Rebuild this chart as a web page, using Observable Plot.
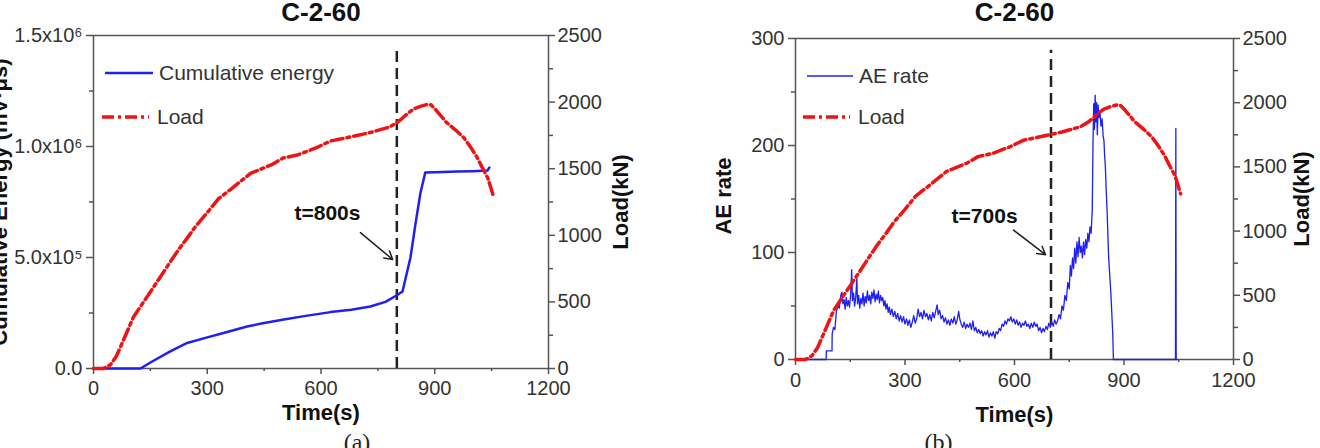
<!DOCTYPE html>
<html><head><meta charset="utf-8">
<script src="https://cdn.jsdelivr.net/npm/d3@7"></script>
<script src="https://cdn.jsdelivr.net/npm/@observablehq/plot@0.6"></script>
<style>
body{margin:0;background:#fff;}
#wrap{position:relative;width:1320px;height:448px;overflow:hidden;background:#fff;font-family:"Liberation Sans",Arial,sans-serif;}
.panel{position:absolute;top:0;}
.leg{position:absolute;display:flex;align-items:center;height:24px;font-size:21px;color:#333;white-space:nowrap;}
.leg svg{display:block;}
</style></head><body>
<div id="wrap">
  <div class="panel" id="pa" style="left:0"></div>
  <div class="panel" id="pb" style="left:660px"></div>
</div>
<script>
// ---------- data ----------
const timeTicks = [0, 300, 600, 900, 1200];
const timeMinor = [150, 450, 750, 1050];
const energyTicks = [0, 5e5, 1e6, 1.5e6];
const energyTickLabels = ["0.0", "5.0x10\u2075", "1.0x10\u2076", "1.5x10\u2076"];
const energyMinor = [2.5e5, 7.5e5, 1.25e6];
const rateTicks = [0, 100, 200, 300];
const rateMinor = [50, 150, 250];
const loadTicks = [0, 500, 1000, 1500, 2000, 2500];
const loadMinor = [250, 750, 1250, 1750, 2250];

const titles = ["C-2-60", "C-2-60"];
const captions = ["(a)", "(b)"];

// Load (kN) vs time (s)
const loadData = [
  [0,0],[25,0],[35,10],[45,30],[60,90],[80,220],[105,385],[125,470],[150,575],[178,695],
  [200,790],[225,895],[250,990],[270,1070],[300,1170],[330,1275],[362,1345],[414,1465],
  [470,1530],[500,1580],[540,1605],[590,1660],[625,1708],[680,1740],[730,1772],[780,1812],
  [800,1845],[815,1880],[828,1914],[845,1950],[862,1968],[880,1982],[890,1980],[905,1935],
  [930,1850],[955,1790],[976,1735],[995,1660],[1012,1584],[1025,1510],[1040,1430],[1055,1290]
];

// Cumulative energy vs time (s)
const energyData = [
  [0,0],[124,0],[150,27000],[200,75000],[247,115000],[300,140000],[350,163000],[405,189000],
  [450,205000],[502,221000],[560,237000],[625,254000],[680,265000],[730,279000],[770,300000],
  [800,330000],[815,347000],[825,420000],[836,500000],[849,649000],[862,788000],[875,883000],
  [900,884000],[960,887000],[1000,889000],[1039,892000],[1044,905000]
];

// AE rate vs time (s)
const rateData = [
  [0,0],[84,0],[84.5,8],[100,8],[100.5,24],[104,30],[108,28],[112,45],[116,50],[120,48],[124,60],
  [127,63],[130,52],[133,56],[136,47],[139,58],[142,50],[145,55],[148,49],[151,60],[154,84],[156,55],
  [159,62],[162,50],[165,58],[168,76],[170,52],[173,60],[176,48],[179,57],[182,52],[185,62],[188,50],
  [191,59],[194,53],[197,64],[200,55],[203,60],[206,52],[209,63],[212,57],[215,65],[218,54],[221,61],
  [224,56],[227,64],[230,53],[233,60],[236,55],[239,58],[242,50],[245,55],[248,47],[251,52],[254,44],
  [257,49],[260,42],[264,47],[268,40],[272,45],[276,38],[280,43],[284,36],[288,41],[292,35],[296,40],
  [300,33],[304,38],[308,32],[312,37],[316,30],[320,35],[324,41],[328,34],[332,38],[336,47],[340,40],
  [344,44],[348,38],[352,46],[356,40],[360,43],[364,37],[368,42],[372,36],[376,44],[380,39],[384,45],
  [388,51],[391,42],[395,46],[399,38],[403,41],[407,35],[411,39],[415,33],[419,37],[423,32],[427,38],
  [431,34],[435,40],[439,33],[443,37],[447,45],[450,38],[454,33],[458,30],[462,35],[466,29],[470,33],
  [474,30],[478,34],[482,28],[486,36],[490,27],[494,30],[498,25],[502,28],[506,24],[510,27],[514,22],
  [518,26],[522,23],[526,27],[530,21],[534,25],[538,22],[542,26],[546,20],[550,26],[554,24],[558,29],
  [562,27],[566,33],[570,31],[574,36],[578,33],[582,38],[586,36],[590,40],[594,35],[598,38],[602,33],
  [606,37],[610,32],[614,35],[618,30],[622,34],[626,32],[630,36],[634,31],[638,33],[642,29],[646,34],
  [650,30],[654,35],[658,31],[662,33],[666,27],[670,30],[674,25],[678,29],[682,26],[686,31],[690,28],
  [694,34],[698,30],[702,35],[706,31],[710,37],[714,33],[718,36],[722,42],[726,38],[730,50],[734,46],
  [738,60],[742,55],[746,72],[750,66],[753,88],[756,78],[759,95],[762,85],[765,104],[768,90],[771,110],
  [774,96],[777,114],[780,100],[783,106],[786,95],[789,110],[792,98],[795,112],[798,104],[801,118],
  [804,110],[807,124],[810,118],[813,140],[815,200],[817,239],[819,215],[821,247],[823,222],[825,240],
  [827,210],[829,238],[831,226],[834,232],[837,218],[840,225],[843,208],[845,205],[847,190],[849,180],
  [851,160],[854,136],[858,95],[864,62],[869,26],[871,0],[1041,0],[1042,216],[1043,0],[1046,0]
];

// markers & annotations (data coordinates)
const markerA = {t: 800, top: 1.446e6};
const markerB = {t: 700, top: 289};
const annotA = {t: 617, v: 7.0e5, label: "t=800s", fromT: 704, fromV: 6.12e5, toT: 789, toV: 4.91e5};
const annotB = {t: 518, v: 134, label: "t=700s", fromT: 597, fromV: 121, toT: 685, toV: 98};

const BLUE = "#1f1ff0", RED = "#ee1414", AXIS = "#555", TXT = "#333";
const FONT = "'Liberation Sans', Arial, sans-serif";

function panel(o) {
  const k = o.leftMax / 2500;
  return Plot.plot({
    width: 660, height: 448,
    marginLeft: o.ml, marginRight: o.mr, marginTop: o.mt, marginBottom: o.mb,
    x: {domain: [0, 1200], label: null},
    y: {domain: [0, o.leftMax], label: null},
    style: {fontFamily: FONT, fontSize: "20px", color: TXT, background: "transparent", overflow: "visible"},
    marks: [
      Plot.axisX(timeTicks, {tickSize: 6, tickPadding: o.xPad, tickFormat: d => String(d), label: null, stroke: AXIS, strokeWidth: 1.5, fill: TXT, fontSize: 20}),
      Plot.axisX(timeMinor, {tickSize: 3, tickFormat: () => "", label: null, stroke: AXIS, strokeWidth: 1.5}),
      Plot.axisY(o.leftTicks, {tickSize: 7, tickPadding: 4, tickFormat: o.leftFmt, label: null, stroke: AXIS, strokeWidth: 1.5, fill: TXT, fontSize: 20}),
      Plot.axisY(o.leftMinor, {tickSize: 4, tickFormat: () => "", label: null, stroke: AXIS, strokeWidth: 1.5}),
      Plot.axisY(loadTicks.map(v => v * k), {anchor: "right", tickSize: 6, tickPadding: 3, tickFormat: d => String(Math.round(d / k)), label: null, stroke: AXIS, strokeWidth: 1.5, fill: TXT, fontSize: 20}),
      Plot.axisY(loadMinor.map(v => v * k), {anchor: "right", tickSize: 4, tickFormat: () => "", label: null, stroke: AXIS, strokeWidth: 1.5}),
      Plot.frame({stroke: AXIS, strokeWidth: 1.5}),
      Plot.ruleX([o.marker], {x: d => d.t, y1: 0, y2: d => d.top, stroke: "#222", strokeWidth: 2.5, strokeDasharray: "11,6"}),
      Plot.line(o.main, {x: d => d[0], y: d => d[1], stroke: BLUE, strokeWidth: o.mainWidth, strokeLinejoin: "round"}),
      Plot.line(loadData, {x: d => d[0], y: d => d[1] * k, stroke: RED, strokeWidth: 3.5, strokeDasharray: "12,4,3,4"}),
      Plot.arrow([o.annot], {x1: "fromT", y1: "fromV", x2: "toT", y2: "toV", stroke: "#222", strokeWidth: 1.5, headLength: 9}),
      Plot.text([o.annot], {x: "t", y: "v", text: "label", fontWeight: "bold", fontSize: 21, fill: "#111"}),
      Plot.text([o.title], {text: d => d, frameAnchor: "top", textAnchor: "middle", lineAnchor: "middle", dy: o.titleDy, fontWeight: "bold", fontSize: 26, fill: "#111"}),
      Plot.text(["Time(s)"], {text: d => d, frameAnchor: "bottom", textAnchor: "middle", lineAnchor: "middle", dy: o.xLabelDy, fontWeight: "bold", fontSize: 22, fill: "#111"}),
      Plot.text([o.yLabel], {text: d => d, frameAnchor: "left", textAnchor: "middle", lineAnchor: "middle", rotate: -90, dx: o.yLabelDx, dy: o.yLabelDy, fontWeight: "bold", fontSize: 22, fill: "#111"}),
      Plot.text(["Load(kN)"], {text: d => d, frameAnchor: "right", textAnchor: "middle", lineAnchor: "middle", rotate: -90, dx: o.rLabelDx, fontWeight: "bold", fontSize: 22, fill: "#111"}),
      Plot.text([o.caption], {text: d => d, frameAnchor: "bottom", textAnchor: "middle", lineAnchor: "middle", dx: o.capDx, dy: o.capDy, fontFamily: "'Liberation Serif', 'Times New Roman', serif", fontSize: 24, fill: "#222"})
    ]
  });
}

document.getElementById("pa").append(panel({
  ml: 93, mr: 112, mt: 35, mb: 80, xPad: 6,
  leftMax: 1.5e6, leftTicks: energyTicks, leftMinor: energyMinor,
  leftFmt: d => energyTickLabels[energyTicks.indexOf(d)],
  main: energyData, mainWidth: 2.5, marker: markerA, annot: annotA,
  title: titles[0], titleDy: -23, xLabelDy: 44,
  yLabel: "Cumulative Energy (mV\u00b7\u03bcs)", yLabelDx: -94, yLabelDy: 0,
  rLabelDx: 72, caption: captions[0], capDx: 36, capDy: 74
}));

document.getElementById("pb").append(panel({
  ml: 135, mr: 87, mt: 38, mb: 89, xPad: 7,
  leftMax: 300, leftTicks: rateTicks, leftMinor: rateMinor,
  leftFmt: d => String(d),
  main: rateData, mainWidth: 1.3, marker: markerB, annot: annotB,
  title: titles[1], titleDy: -26, xLabelDy: 55,
  yLabel: "AE rate", yLabelDx: -72, yLabelDy: -3,
  rLabelDx: 68, caption: captions[1], capDx: -76, capDy: 83
}));

// ---------- legends ----------
const legends = [
  {left: 105, top: 61, label: "Cumulative energy", color: BLUE, width: 2.5, dash: null, len: 48, gap: 6},
  {left: 102, top: 105, label: "Load", color: RED, width: 3.5, dash: "12,4,3,4", len: 47, gap: 8},
  {left: 807, top: 64, label: "AE rate", color: BLUE, width: 1.5, dash: null, len: 46, gap: 6},
  {left: 803, top: 105, label: "Load", color: RED, width: 3.5, dash: "12,4,3,4", len: 47, gap: 8}
];
const wrap = document.getElementById("wrap");
const ns = "http://www.w3.org/2000/svg";
for (const it of legends) {
  const div = document.createElement("div");
  div.className = "leg";
  div.style.left = it.left + "px";
  div.style.top = it.top + "px";
  const s = document.createElementNS(ns, "svg");
  s.setAttribute("width", it.len); s.setAttribute("height", 24);
  s.style.marginRight = it.gap + "px";
  const ln = document.createElementNS(ns, "line");
  ln.setAttribute("x1", 0); ln.setAttribute("x2", it.len);
  ln.setAttribute("y1", 12); ln.setAttribute("y2", 12);
  ln.setAttribute("stroke", it.color); ln.setAttribute("stroke-width", it.width);
  if (it.dash) ln.setAttribute("stroke-dasharray", it.dash);
  s.append(ln);
  const sp = document.createElement("span");
  sp.textContent = it.label;
  div.append(s, sp);
  wrap.append(div);
}
</script>
</body></html>
